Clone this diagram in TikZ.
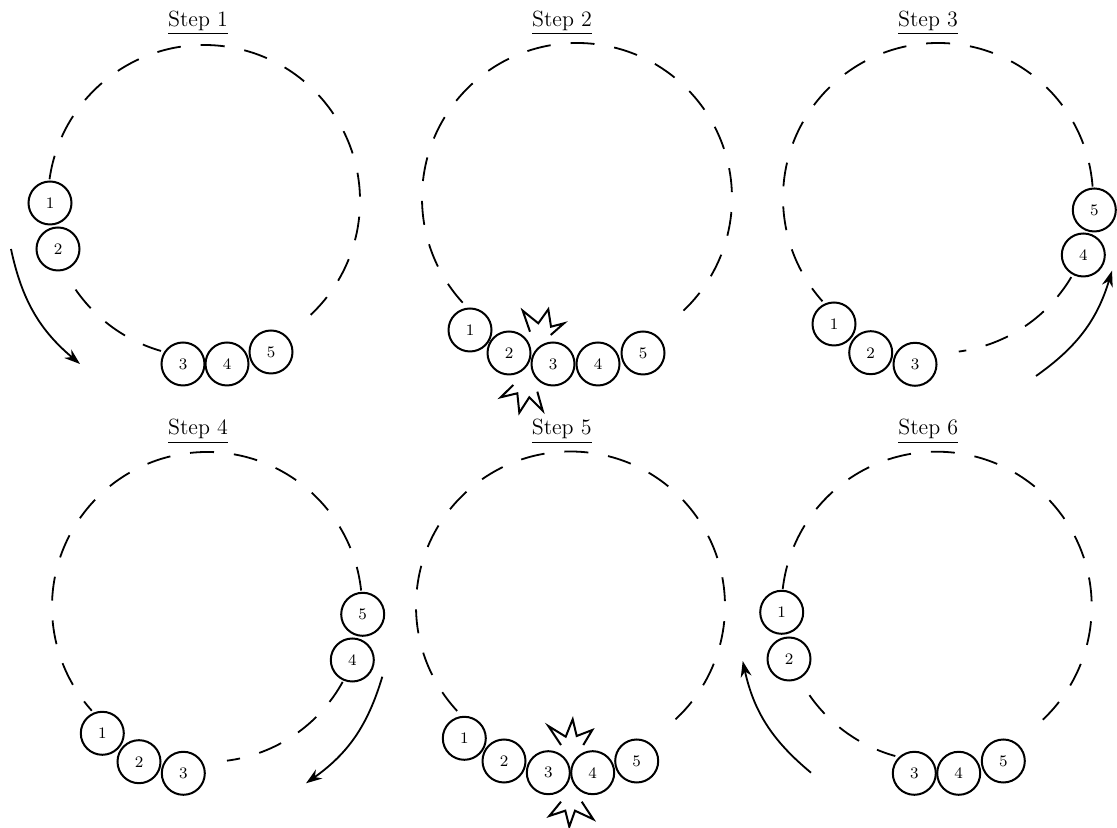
\documentclass[tikz,border=0pt]{standalone}
\usetikzlibrary{arrows.meta}
\begin{document}
\begin{tikzpicture}[x=0.5pt,y=0.5pt,
  ball/.style={circle,draw,line width=1pt,fill=white,minimum size=21.5pt,inner sep=0pt,font=\footnotesize},
  track/.style={line width=0.9pt,dash pattern=on 12pt off 10pt},
  mov/.style={line width=0.9pt,-{Stealth[length=8pt,width=5.5pt]}},
  boom/.style={line width=1pt,line join=miter},
  ttl/.style={anchor=base,inner sep=0pt,font=\fontsize{11}{13}\selectfont}]
\useasboundingbox (0,0) rectangle (1117,828);

% ---------- Step 1 ----------
\coordinate (c1) at (204,627);
\draw[track] (c1) ++(172:156) arc[start angle=172,end angle=-50,radius=156];
\draw[track] (c1) ++(214.6:156) arc[start angle=214.6,end angle=254,radius=156];
\node[ball] (p1b1) at (50,625) {1};
\node[ball] (p1b2) at (58,579) {2};
\node[ball] (p1b3) at (183,464) {3};
\node[ball] (p1b4) at (227,464) {4};
\node[ball] (p1b5) at (271,476) {5};
\node[ttl] (t1) at (198,801.3) {\underline{Step 1}};
\coordinate (a1s) at (11,579); \coordinate (a1e) at (80,464);
\draw[mov] (a1s) to[bend right=19] (a1e);

% ---------- Step 2 ----------
\coordinate (c2) at (577,630);
\draw[track] (c2) ++(222.5:155) arc[start angle=222.5,end angle=-51,radius=155];
\node[ball] (p2b1) at (470,498) {1};
\node[ball] (p2b2) at (509,475) {2};
\node[ball] (p2b3) at (553,464) {3};
\node[ball] (p2b4) at (598,464) {4};
\node[ball] (p2b5) at (643,475) {5};
\node[ttl] (t2) at (562,801.3) {\underline{Step 2}};
\draw[boom] (530,496.3) -- (522.7,517.3) -- (538.3,504.7) -- (548.3,518.7) -- (551,501.3) -- (564,504.7) -- (550.7,493);
\draw[boom] (513.3,443) -- (500.7,430.7) -- (517.3,434.7) -- (519.3,415.3) -- (529.3,430.7) -- (542.7,417.3) -- (537.3,436.3);

% ---------- Step 3 ----------
\coordinate (c3) at (938,630);
\draw[track] (c3) ++(4.2:155) arc[start angle=4.2,end angle=221.8,radius=155];
\draw[track] (c3) ++(-30.7:155) arc[start angle=-30.7,end angle=-82.3,radius=155];
\node[ball] (p3b1) at (834,504) {1};
\node[ball] (p3b2) at (870.7,475.3) {2};
\node[ball] (p3b3) at (915,463.7) {3};
\node[ball] (p3b4) at (1083.3,573) {4};
\node[ball] (p3b5) at (1094.3,618) {5};
\node[ttl] (t3) at (928,801.3) {\underline{Step 3}};
\coordinate (a3s) at (1036,452); \coordinate (a3e) at (1112,557.3);
\draw[mov] (a3s) to[bend right=19] (a3e);

% ---------- Step 4 ----------
\coordinate (c4) at (207,221);
\draw[track] (c4) ++(6.1:155) arc[start angle=6.1,end angle=222,radius=155];
\draw[track] (c4) ++(-28.9:155) arc[start angle=-28.9,end angle=-82.6,radius=155];
\node[ball] (p4b1) at (102.3,94.7) {1};
\node[ball] (p4b2) at (139,66.3) {2};
\node[ball] (p4b3) at (183.3,54.7) {3};
\node[ball] (p4b4) at (352.3,168) {4};
\node[ball] (p4b5) at (362.7,213.7) {5};
\node[ttl] (t4) at (198,393) {\underline{Step 4}};
\coordinate (a4s) at (382.3,151.3); \coordinate (a4e) at (306,44.7);
\draw[mov] (a4s) to[bend left=19] (a4e);

% ---------- Step 5 ----------
\coordinate (c5) at (570.5,222);
\draw[track] (c5) ++(222.8:154.5) arc[start angle=222.8,end angle=-50.7,radius=154.5];
\node[ball] (p5b1) at (464.3,89.7) {1};
\node[ball] (p5b2) at (504,67) {2};
\node[ball] (p5b3) at (548.3,55.3) {3};
\node[ball] (p5b4) at (592.7,55.3) {4};
\node[ball] (p5b5) at (636.7,67) {5};
\node[ttl] (t5) at (561.7,393) {\underline{Step 5}};
\draw[boom] (561,83) -- (548.3,102) -- (565.7,91.3) -- (572.7,108.7) -- (576.7,92) -- (592.3,98) -- (583.3,83);
\draw[boom] (561,26.3) -- (549.3,12) -- (565.3,17.3) -- (569.3,1.3) -- (575,17.3) -- (593.3,8.7) -- (581.7,26.3);

% ---------- Step 6 ----------
\coordinate (c6) at (936.7,221.3);
\draw[track] (c6) ++(173.5:155) arc[start angle=173.5,end angle=-50.8,radius=155];
\draw[track] (c6) ++(214.8:155) arc[start angle=214.8,end angle=254.5,radius=155];
\node[ball] (p6b1) at (781.7,215.7) {1};
\node[ball] (p6b2) at (789,169) {2};
\node[ball] (p6b3) at (914.3,54.7) {3};
\node[ball] (p6b4) at (958.7,54.7) {4};
\node[ball] (p6b5) at (1003.3,67) {5};
\node[ttl] (t6) at (928.3,393) {\underline{Step 6}};
\coordinate (a6s) at (811,55.3); \coordinate (a6e) at (742.7,167);
\draw[mov] (a6s) to[bend left=19] (a6e);
\end{tikzpicture}
\end{document}
